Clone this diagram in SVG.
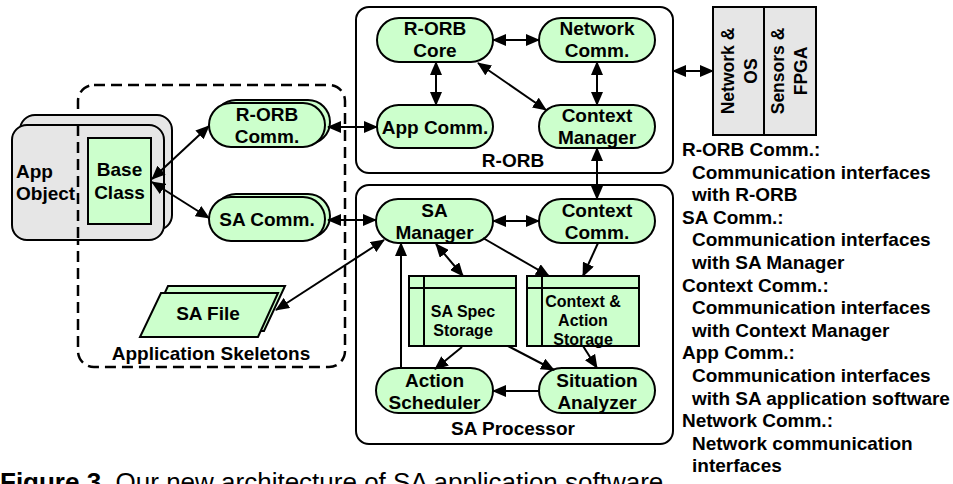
<svg xmlns="http://www.w3.org/2000/svg" width="953" height="484" viewBox="0 0 953 484">
<style>
text{font-family:"Liberation Sans",Arial,sans-serif;font-weight:bold;font-size:19px;fill:#000}
.c{text-anchor:middle}
.st{font-size:16px}
.rot{font-size:17.5px}
.g{fill:#ccffcc;stroke:#000;stroke-width:2}
.gr{fill:#e6e6e6;stroke:#000;stroke-width:2}
.box{fill:#fff;stroke:#000;stroke-width:2}
.dash{fill:none;stroke:#000;stroke-width:2.5;stroke-dasharray:11 6}
.ln{fill:none;stroke:#000;stroke-width:2}
.a2{marker-start:url(#ah);marker-end:url(#ah)}
.a1{marker-end:url(#ah)}
.cap{font-size:26px;font-weight:normal}
</style>
<defs>
<marker id="ah" markerUnits="userSpaceOnUse" markerWidth="14" markerHeight="12" refX="13" refY="6" orient="auto-start-reverse" viewBox="0 0 14 12">
<path d="M0,0 L14,6 L0,12 z" fill="#000"/>
</marker>
</defs>
<rect width="953" height="484" fill="#fff"/>

<g id="application-skeletons">
<rect class="dash" x="78" y="85" width="267" height="282" rx="16"/>
<text class="c" x="211" y="360">Application Skeletons</text>
</g>

<g id="app-object">
<rect class="gr" x="20" y="115" width="152" height="115" rx="15"/>
<rect class="gr" x="12" y="125" width="152" height="115" rx="15"/>
<text x="16" y="178">App</text>
<text x="16" y="200">Object</text>
</g>
<path d="M78,125 V240" class="dash"/>

<g id="base-class">
<rect class="g" x="88" y="138" width="63" height="86"/>
<text class="c" x="119.5" y="176">Base</text>
<text class="c" x="119.5" y="199">Class</text>
</g>

<g id="rorb-comm">
<rect class="g" x="214" y="100" width="116" height="44" rx="22"/>
<rect class="g" x="209" y="103" width="116" height="44" rx="22"/>
<text class="c" x="267" y="121">R-ORB</text>
<text class="c" x="267" y="143">Comm.</text>
</g>

<g id="sa-comm">
<rect class="g" x="214" y="194" width="116" height="44" rx="22"/>
<rect class="g" x="209" y="197" width="116" height="44" rx="22"/>
<text class="c" x="267" y="226">SA Comm.</text>
</g>

<g id="sa-file">
<path class="g" d="M168,286 L285,286 L264,331 L147,331 z"/>
<path class="g" d="M161,293 L278,293 L258,337 L140,337 z"/>
<text class="c" x="208" y="320">SA File</text>
</g>

<g id="rorb">
<rect class="box" x="356" y="7" width="317" height="166" rx="13"/>
<text class="c" x="513" y="167">R-ORB</text>
</g>

<g id="sa-processor">
<rect class="box" x="356" y="185" width="317" height="259" rx="13"/>
<text class="c" x="513" y="435">SA Processor</text>
</g>

<g id="rorb-core">
<rect class="g" x="377" y="18" width="116" height="44" rx="22"/>
<text class="c" x="435" y="35">R-ORB</text>
<text class="c" x="435" y="57">Core</text>
</g>

<g id="network-comm">
<rect class="g" x="539" y="18" width="116" height="44" rx="22"/>
<text class="c" x="597" y="35">Network</text>
<text class="c" x="597" y="57">Comm.</text>
</g>

<g id="app-comm">
<rect class="g" x="377" y="105" width="116" height="43" rx="21.5"/>
<text class="c" x="435" y="133.5">App Comm.</text>
</g>

<g id="context-manager">
<rect class="g" x="539" y="105" width="116" height="43" rx="21.5"/>
<text class="c" x="597" y="122">Context</text>
<text class="c" x="597" y="144">Manager</text>
</g>

<g id="sa-manager">
<rect class="g" x="376" y="199" width="117" height="44" rx="22"/>
<text class="c" x="434.5" y="217">SA</text>
<text class="c" x="434.5" y="239">Manager</text>
</g>

<g id="context-comm">
<rect class="g" x="539" y="199" width="116" height="44" rx="22"/>
<text class="c" x="597" y="217">Context</text>
<text class="c" x="597" y="239">Comm.</text>
</g>

<g id="sa-spec-storage">
<rect class="g" x="409" y="276" width="107" height="70"/>
<path class="ln" d="M409,288 H516 M424,276 V346"/>
<text class="c st" x="463" y="317">SA Spec</text>
<text class="c st" x="463" y="336">Storage</text>
</g>

<g id="context-action-storage">
<rect class="g" x="527" y="276" width="112" height="70"/>
<path class="ln" d="M527,288 H639 M542,276 V346"/>
<text class="c st" x="583" y="307">Context &amp;</text>
<text class="c st" x="583" y="326">Action</text>
<text class="c st" x="583" y="345">Storage</text>
</g>

<g id="action-scheduler">
<rect class="g" x="376" y="368" width="117" height="45" rx="22.5"/>
<text class="c" x="434.5" y="386.5">Action</text>
<text class="c" x="434.5" y="408.5">Scheduler</text>
</g>

<g id="situation-analyzer">
<rect class="g" x="539" y="368" width="116" height="45" rx="22.5"/>
<text class="c" x="597" y="386.5">Situation</text>
<text class="c" x="597" y="408.5">Analyzer</text>
</g>

<g id="network-os-sensors">
<rect class="gr" x="713" y="7" width="103" height="128"/>
<path class="ln" d="M764,7 V135"/>
<text class="c rot" transform="translate(734,71) rotate(-90)">Network &amp;</text>
<text class="c rot" transform="translate(757,71) rotate(-90)">OS</text>
<text class="c rot" transform="translate(784,71) rotate(-90)">Sensors &amp;</text>
<text class="c rot" transform="translate(807,71) rotate(-90)">FPGA</text>
</g>

<g id="connectors">
<path class="ln a2" d="M152,179 L209,126"/>
<path class="ln a2" d="M152,182 L209,218"/>
<path class="ln a2" d="M328,127 H377"/>
<path class="ln a2" d="M328,220 H376"/>
<path class="ln a2" d="M276,310 L384,240"/>
<path class="ln a1" d="M401,368 V243"/>
<path class="ln a2" d="M493,221 H539"/>
<path class="ln a2" d="M597,148 V199"/>
<path class="ln a2" d="M493,40 H539"/>
<path class="ln a2" d="M436,62 V105"/>
<path class="ln a2" d="M597,62 V105"/>
<path class="ln a2" d="M478,63 L546,110"/>
<path class="ln a2" d="M436,244 L463,276"/>
<path class="ln a1" d="M483,238 L549,276"/>
<path class="ln a1" d="M598,243 L583,276"/>
<path class="ln a1" d="M462,347 L435,369"/>
<path class="ln a1" d="M508,346 L554,370"/>
<path class="ln a1" d="M583,346 L597,368"/>
<path class="ln a1" d="M539,391 H493"/>
<path class="ln a2" d="M673,71 H713"/>
</g>

<g id="legend">
<text x="682" y="156">R-ORB Comm.:</text>
<text x="692" y="178.6">Communication interfaces</text>
<text x="692" y="201.2">with R-ORB</text>
<text x="682" y="223.8">SA Comm.:</text>
<text x="692" y="246.4">Communication interfaces</text>
<text x="692" y="269">with SA Manager</text>
<text x="682" y="291.6">Context Comm.:</text>
<text x="692" y="314.2">Communication interfaces</text>
<text x="692" y="336.8">with Context Manager</text>
<text x="682" y="359.4">App Comm.:</text>
<text x="692" y="382">Communication interfaces</text>
<text x="692" y="404.6">with SA application software</text>
<text x="682" y="427.2">Network Comm.:</text>
<text x="692" y="449.8">Network communication</text>
<text x="692" y="472.4">interfaces</text>
</g>

<g id="caption">
<text class="cap" x="0" y="491"><tspan font-weight="bold">Figure 3.</tspan> Our new architecture of SA application software</text>
</g>
</svg>
